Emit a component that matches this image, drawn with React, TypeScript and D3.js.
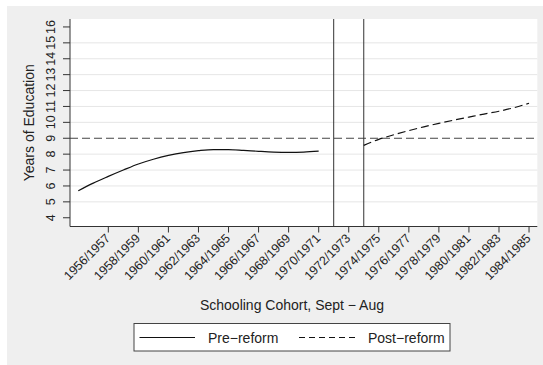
import React from "react";
import * as d3 from "d3";

// cohort (first year of school year) and years of education
const preYears = [1954, 1955, 1956, 1957, 1958, 1959, 1960, 1961, 1962, 1963, 1964, 1965, 1966, 1967, 1968, 1969, 1970];
const preValues = [5.7, 6.18, 6.6, 7.0, 7.38, 7.68, 7.92, 8.1, 8.22, 8.29, 8.29, 8.24, 8.18, 8.13, 8.11, 8.13, 8.19];

const postYears = [1973, 1974, 1975, 1976, 1977, 1978, 1979, 1980, 1981, 1982, 1983, 1984];
const postValues = [8.55, 8.93, 9.22, 9.48, 9.72, 9.94, 10.14, 10.33, 10.52, 10.7, 10.92, 11.2];

const cohortLabels = [
  "1956/1957", "1958/1959", "1960/1961", "1962/1963", "1964/1965",
  "1966/1967", "1968/1969", "1970/1971", "1972/1973", "1974/1975",
  "1976/1977", "1978/1979", "1980/1981", "1982/1983", "1984/1985",
];
const yTicks = [4, 5, 6, 7, 8, 9, 10, 11, 12, 13, 14, 15, 16];
const reformYears = [1971, 1973];
const refLevel = 9;

const W = 543;
const H = 365;
const plot = { left: 70, right: 537.3, top: 19, bottom: 226.5 };
const font = "'Liberation Sans', Arial, Helvetica, sans-serif";
const ink = "#222";

const App: React.FC = () => {
  const x = d3.scaleLinear().domain([1953.45, 1984.55]).range([plot.left, plot.right]);
  const y = d3.scaleLinear().domain([3.45, 16.5]).range([plot.bottom, plot.top]);

  const line = d3
    .line<[number, number]>()
    .x((d) => x(d[0]))
    .y((d) => y(d[1]))
    .curve(d3.curveMonotoneX);

  const preData = preYears.map((yr, i) => [yr, preValues[i]] as [number, number]);
  const postData = postYears.map((yr, i) => [yr, postValues[i]] as [number, number]);

  const xTicks = cohortLabels.map((lab) => ({ label: lab, pos: x(parseInt(lab.slice(0, 4), 10)) }));
  const midX = 292;

  return (
    <svg
      width={W}
      height={H}
      style={{ position: "absolute", left: 0, top: 0, display: "block" }}
      fontFamily={font}
    >
      <rect x={0} y={0} width={W} height={H} fill="#fff" />
      {/* graph region */}
      <rect x={7} y={6} width={W - 7} height={H - 6} fill="#efefef" />
      {/* plot region */}
      <rect x={plot.left} y={plot.top} width={plot.right - plot.left} height={plot.bottom - plot.top} fill="#fff" />

      {/* grid lines */}
      {yTicks
        .filter((t) => t !== yTicks[0] && t !== yTicks[yTicks.length - 1] && t !== refLevel)
        .map((t) => (
          <line key={t} x1={plot.left} x2={plot.right} y1={y(t)} y2={y(t)} stroke="#e6e6e6" strokeWidth={1} />
        ))}

      {/* reference line at 9 years */}
      <line
        x1={plot.left}
        x2={plot.right}
        y1={y(refLevel)}
        y2={y(refLevel)}
        stroke="#444"
        strokeWidth={1}
        strokeDasharray="8,4"
      />

      {/* reform window */}
      {reformYears.map((yr) => (
        <line key={yr} x1={x(yr)} x2={x(yr)} y1={plot.top} y2={plot.bottom} stroke="#333" strokeWidth={1} />
      ))}

      {/* series */}
      <path d={line(preData) || ""} fill="none" stroke="#111" strokeWidth={1.2} />
      <path d={line(postData) || ""} fill="none" stroke="#111" strokeWidth={1.2} strokeDasharray="8,4" />

      {/* Y axis */}
      <line x1={plot.left} x2={plot.left} y1={plot.top} y2={plot.bottom} stroke="#333" />
      {yTicks.map((t) => (
        <g key={t}>
          <line x1={plot.left - 7} x2={plot.left} y1={y(t)} y2={y(t)} stroke="#333" />
          <text
            transform={`translate(${55},${y(t)}) rotate(-90)`}
            textAnchor="middle"
            fontSize={12.5}
            fill={ink}
          >
            {t}
          </text>
        </g>
      ))}
      <text
        transform={`translate(${34},${(plot.top + plot.bottom) / 2}) rotate(-90)`}
        textAnchor="middle"
        fontSize={14}
        fill={ink}
      >
        Years of Education
      </text>

      {/* X axis */}
      <line x1={plot.left} x2={plot.right} y1={plot.bottom} y2={plot.bottom} stroke="#333" />
      {xTicks.map((t) => (
        <g key={t.label}>
          <line x1={t.pos} x2={t.pos} y1={plot.bottom} y2={plot.bottom + 6} stroke="#333" />
          <text
            transform={`translate(${t.pos + 2.5},${239}) rotate(-45)`}
            textAnchor="end"
            fontSize={12.5}
            fill={ink}
          >
            {t.label}
          </text>
        </g>
      ))}
      <text x={midX} y={310} textAnchor="middle" fontSize={14} fill={ink}>
        Schooling Cohort, Sept − Aug
      </text>

      {/* legend */}
      <rect x={134} y={323.5} width={316} height={27.5} fill="#fff" stroke="#444" strokeWidth={1} />
      <line x1={139.5} x2={195} y1={337.5} y2={337.5} stroke="#111" strokeWidth={1.2} />
      <text x={208} y={342.5} fontSize={14} fill={ink}>
        Pre−reform
      </text>
      <line x1={299} x2={358} y1={337.5} y2={337.5} stroke="#111" strokeWidth={1.2} strokeDasharray="6,4" />
      <text x={368} y={342.5} fontSize={14} fill={ink}>
        Post−reform
      </text>
    </svg>
  );
};

export default App;
